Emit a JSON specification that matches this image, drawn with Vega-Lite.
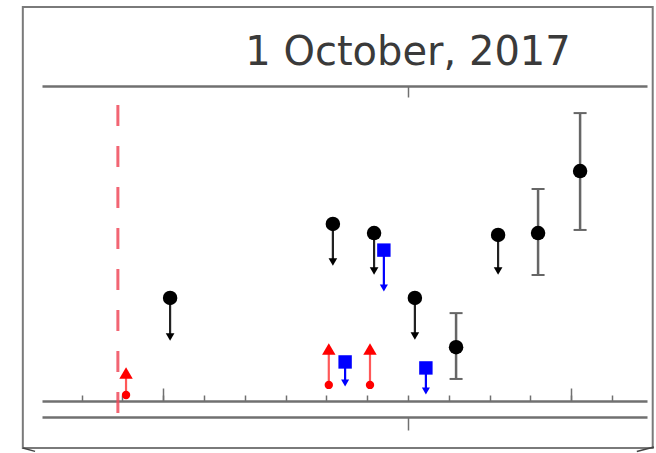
{
  "$schema": "https://vega.github.io/schema/vega-lite/v6.json",
  "width": 605,
  "height": 315,
  "autosize": {"type": "none"},
  "padding": {"left": 42, "top": 86, "right": 9, "bottom": 52},
  "background": "white",
  "config": {"view": {"stroke": null}},
  "title": {
    "text": "1 October, 2017",
    "font": "DejaVu Sans",
    "fontSize": 40,
    "fontWeight": "normal",
    "color": "#3a3a3a",
    "anchor": "middle",
    "frame": "group",
    "dx": 63.5,
    "baseline": "alphabetic",
    "offset": -99
  },
  "datasets": {
    "frame": [{"t": -9.44, "t2": 6.0, "y": 12.51, "y2": -1.49}],
    "corners": [
      {"t": -9.44, "t2": -9.14, "y": -1.49, "y2": -1.6},
      {"t": 5.61, "t2": 6.03, "y": -1.6, "y2": -1.46}
    ],
    "marker": [{"t": -7.11, "y": 9.4, "y2": -0.98}],
    "upper": [
      {"t": -5.83, "y": 3.27, "head": 2.03},
      {"t": -1.84, "y": 5.62, "head": 4.41},
      {"t": -0.83, "y": 5.33, "head": 4.13},
      {"t": 0.17, "y": 3.27, "head": 2.06},
      {"t": 2.21, "y": 5.27, "head": 4.13}
    ],
    "detections": [
      {"t": 1.18, "y": 1.71, "lo": 0.7, "hi": 2.79},
      {"t": 3.19, "y": 5.33, "lo": 4.0, "hi": 6.73},
      {"t": 4.22, "y": 7.3, "lo": 5.43, "hi": 9.14}
    ],
    "blue": [
      {"t": -1.54, "y": 1.24, "head": 0.57},
      {"t": -0.59, "y": 4.79, "head": 3.59},
      {"t": 0.44, "y": 1.05, "head": 0.32}
    ],
    "red": [
      {"t": -6.91, "y": 0.19, "tip": 0.89},
      {"t": -1.94, "y": 0.51, "tip": 1.65},
      {"t": -0.93, "y": 0.51, "tip": 1.65}
    ]
  },
  "resolve": {"axis": {"x": "independent"}},
  "layer": [
    {
      "data": {"name": "frame"},
      "mark": {"type": "rect", "fillOpacity": 0, "stroke": "#7a7a7a", "strokeWidth": 2},
      "encoding": {
        "x": {"field": "t", "type": "quantitative", "scale": {"domain": [-8.97, 5.86], "nice": false, "zero": false}, "axis": null},
        "x2": {"field": "t2"},
        "y": {"field": "y", "type": "quantitative", "scale": {"domain": [0, 10], "nice": false, "zero": false}, "axis": null},
        "y2": {"field": "y2"}
      }
    },
    {
      "data": {"name": "corners"},
      "mark": {"type": "rule", "stroke": "#444444", "strokeWidth": 1.5},
      "encoding": {
        "x": {"field": "t", "type": "quantitative", "scale": {"domain": [-8.97, 5.86], "nice": false, "zero": false}, "axis": null},
        "x2": {"field": "t2"},
        "y": {"field": "y", "type": "quantitative", "scale": {"domain": [0, 10], "nice": false, "zero": false}, "axis": null},
        "y2": {"field": "y2"}
      }
    },
    {
      "data": {"name": "marker"},
      "mark": {"type": "rule", "stroke": "#f04a5a", "strokeWidth": 3, "strokeDash": [21, 20], "opacity": 0.85},
      "encoding": {
        "x": {
          "field": "t", "type": "quantitative",
          "scale": {"domain": [-8.97, 5.86], "nice": false, "zero": false},
          "axis": {"orient": "top", "values": [0], "tickSize": -11, "tickWidth": 1.5, "tickColor": "#707070", "domainColor": "#707070", "domainWidth": 2.5, "labels": false, "title": null, "grid": false}
        },
        "y": {"field": "y", "type": "quantitative", "scale": {"domain": [0, 10], "nice": false, "zero": false}, "axis": null},
        "y2": {"field": "y2"}
      }
    },
    {
      "data": {"name": "upper"},
      "mark": {"type": "rule", "stroke": "#222222", "strokeWidth": 2.2},
      "encoding": {
        "x": {
          "field": "t", "type": "quantitative",
          "scale": {"domain": [-8.97, 5.86], "nice": false, "zero": false},
          "axis": {"orient": "bottom", "values": [-8, -7, -6, -5, -4, -3, -2, -1, 0, 1, 2, 3, 4, 5], "tickSize": -6, "tickWidth": 1.5, "tickColor": "#707070", "domainColor": "#707070", "domainWidth": 2.5, "labels": false, "title": null, "grid": false}
        },
        "y": {"field": "y", "type": "quantitative", "scale": {"domain": [0, 10], "nice": false, "zero": false}, "axis": null},
        "y2": {"field": "head"}
      }
    },
    {
      "data": {"name": "upper"},
      "mark": {"type": "point", "shape": "triangle-down", "filled": true, "size": 75, "color": "#000000", "opacity": 1},
      "encoding": {
        "x": {
          "field": "t", "type": "quantitative",
          "scale": {"domain": [-8.97, 5.86], "nice": false, "zero": false},
          "axis": {"orient": "bottom", "values": [-6, 4], "tickSize": -13, "tickWidth": 1.5, "tickColor": "#707070", "domain": false, "labels": false, "title": null, "grid": false}
        },
        "y": {"field": "head", "type": "quantitative", "scale": {"domain": [0, 10], "nice": false, "zero": false}, "axis": null}
      }
    },
    {
      "data": {"name": "detections"},
      "mark": {"type": "rule", "stroke": "#666666", "strokeWidth": 2.5},
      "encoding": {
        "x": {
          "field": "t", "type": "quantitative",
          "scale": {"domain": [-8.97, 5.86], "nice": false, "zero": false},
          "axis": {"orient": "bottom", "offset": 16, "values": [0], "tickSize": 13, "tickWidth": 1.5, "tickColor": "#707070", "domainColor": "#707070", "domainWidth": 2.5, "labels": false, "title": null, "grid": false}
        },
        "y": {"field": "lo", "type": "quantitative", "scale": {"domain": [0, 10], "nice": false, "zero": false}, "axis": null},
        "y2": {"field": "hi"}
      }
    },
    {
      "data": {"name": "detections"},
      "mark": {"type": "tick", "orient": "horizontal", "size": 13, "thickness": 2, "color": "#666666", "opacity": 1},
      "encoding": {
        "x": {"field": "t", "type": "quantitative", "scale": {"domain": [-8.97, 5.86], "nice": false, "zero": false}, "axis": null},
        "y": {"field": "lo", "type": "quantitative", "scale": {"domain": [0, 10], "nice": false, "zero": false}, "axis": null}
      }
    },
    {
      "data": {"name": "detections"},
      "mark": {"type": "tick", "orient": "horizontal", "size": 13, "thickness": 2, "color": "#666666", "opacity": 1},
      "encoding": {
        "x": {"field": "t", "type": "quantitative", "scale": {"domain": [-8.97, 5.86], "nice": false, "zero": false}, "axis": null},
        "y": {"field": "hi", "type": "quantitative", "scale": {"domain": [0, 10], "nice": false, "zero": false}, "axis": null}
      }
    },
    {
      "data": {"name": "upper"},
      "mark": {"type": "point", "shape": "circle", "filled": true, "size": 210, "color": "#000000", "opacity": 1},
      "encoding": {
        "x": {"field": "t", "type": "quantitative", "scale": {"domain": [-8.97, 5.86], "nice": false, "zero": false}, "axis": null},
        "y": {"field": "y", "type": "quantitative", "scale": {"domain": [0, 10], "nice": false, "zero": false}, "axis": null}
      }
    },
    {
      "data": {"name": "detections"},
      "mark": {"type": "point", "shape": "circle", "filled": true, "size": 210, "color": "#000000", "opacity": 1},
      "encoding": {
        "x": {"field": "t", "type": "quantitative", "scale": {"domain": [-8.97, 5.86], "nice": false, "zero": false}, "axis": null},
        "y": {"field": "y", "type": "quantitative", "scale": {"domain": [0, 10], "nice": false, "zero": false}, "axis": null}
      }
    },
    {
      "data": {"name": "red"},
      "mark": {"type": "rule", "stroke": "#ff2020", "strokeWidth": 2.2, "opacity": 0.75},
      "encoding": {
        "x": {"field": "t", "type": "quantitative", "scale": {"domain": [-8.97, 5.86], "nice": false, "zero": false}, "axis": null},
        "y": {"field": "y", "type": "quantitative", "scale": {"domain": [0, 10], "nice": false, "zero": false}, "axis": null},
        "y2": {"field": "tip"}
      }
    },
    {
      "data": {"name": "red"},
      "mark": {"type": "point", "shape": "circle", "filled": true, "size": 70, "color": "#ff0000", "opacity": 1},
      "encoding": {
        "x": {"field": "t", "type": "quantitative", "scale": {"domain": [-8.97, 5.86], "nice": false, "zero": false}, "axis": null},
        "y": {"field": "y", "type": "quantitative", "scale": {"domain": [0, 10], "nice": false, "zero": false}, "axis": null}
      }
    },
    {
      "data": {"name": "red"},
      "mark": {"type": "point", "shape": "triangle-up", "filled": true, "size": 180, "color": "#ff0000", "opacity": 1},
      "encoding": {
        "x": {"field": "t", "type": "quantitative", "scale": {"domain": [-8.97, 5.86], "nice": false, "zero": false}, "axis": null},
        "y": {"field": "tip", "type": "quantitative", "scale": {"domain": [0, 10], "nice": false, "zero": false}, "axis": null}
      }
    },
    {
      "data": {"name": "blue"},
      "mark": {"type": "rule", "stroke": "#0000ff", "strokeWidth": 2.2},
      "encoding": {
        "x": {"field": "t", "type": "quantitative", "scale": {"domain": [-8.97, 5.86], "nice": false, "zero": false}, "axis": null},
        "y": {"field": "y", "type": "quantitative", "scale": {"domain": [0, 10], "nice": false, "zero": false}, "axis": null},
        "y2": {"field": "head"}
      }
    },
    {
      "data": {"name": "blue"},
      "mark": {"type": "point", "shape": "triangle-down", "filled": true, "size": 65, "color": "#0000ff", "opacity": 1},
      "encoding": {
        "x": {"field": "t", "type": "quantitative", "scale": {"domain": [-8.97, 5.86], "nice": false, "zero": false}, "axis": null},
        "y": {"field": "head", "type": "quantitative", "scale": {"domain": [0, 10], "nice": false, "zero": false}, "axis": null}
      }
    },
    {
      "data": {"name": "blue"},
      "mark": {"type": "point", "shape": "square", "filled": true, "size": 180, "color": "#0000ff", "opacity": 1},
      "encoding": {
        "x": {"field": "t", "type": "quantitative", "scale": {"domain": [-8.97, 5.86], "nice": false, "zero": false}, "axis": null},
        "y": {"field": "y", "type": "quantitative", "scale": {"domain": [0, 10], "nice": false, "zero": false}, "axis": null}
      }
    }
  ]
}
